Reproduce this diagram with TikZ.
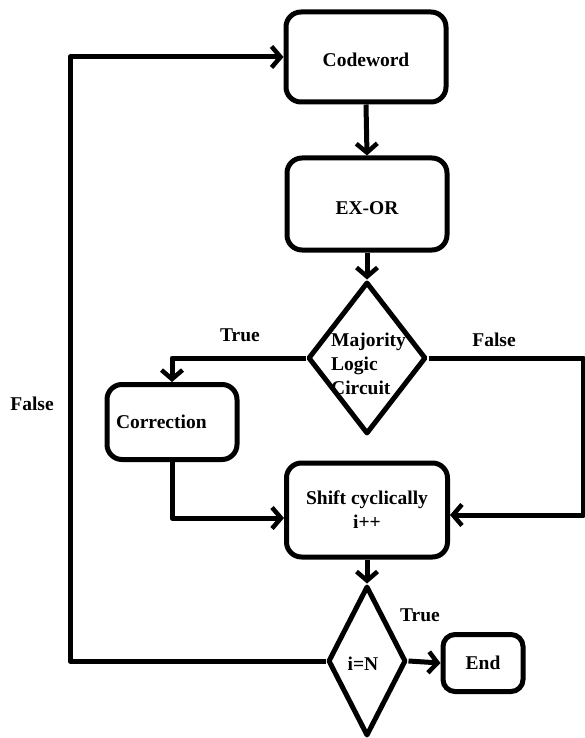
\documentclass[tikz,border=0pt]{standalone}
\usepackage{fontspec}
\setmainfont{Liberation Serif}
\usetikzlibrary{arrows.meta,shapes.geometric}
\begin{document}
\begin{tikzpicture}[x=1pt,y=-1pt,
  every node/.style={font=\fontsize{19.5}{24}\selectfont\bfseries},
  stepbox/.style={draw,line width=5pt,rounded corners=15pt,inner sep=0pt,align=center},
  decide/.style={draw,line width=5pt,diamond,inner sep=0pt,line join=round},
  conn/.style={line width=5pt,line join=round},
  arr/.style={conn,-{Straight Barb[length=9pt,width=21pt,line width=4.5pt]}},
  lbl/.style={inner sep=0pt}]
\useasboundingbox (0,0) rectangle (585,738);
\node[stepbox,minimum width=160pt,minimum height=90pt,text depth=0pt,text height=20pt] (cw) at (366,57) {Codeword};
\node[stepbox,minimum width=160pt,minimum height=92pt,text depth=0pt,text height=20pt] (ex) at (367,204) {EX-OR};
\node[decide,minimum width=118pt,minimum height=152pt] (maj) at (367,358) {};
\node[lbl,anchor=west,align=left] (majt) at (331,364) {Majority\\Logic\\Circuit};
\node[stepbox,minimum width=130pt,minimum height=75pt,text width=112pt,align=left] (corr) at (172,422) {Correction};
\node[stepbox,minimum width=161pt,minimum height=94pt] (sh) at (367,510) {Shift cyclically\\i++};
\node[decide,minimum width=78pt,minimum height=150pt] (eq) at (367,661) {};
\node[lbl] (eqt) at (363,664) {i=N};
\node[stepbox,minimum width=80pt,minimum height=57pt,rounded corners=12pt] (end) at (483,663) {End};
\coordinate (fr) at (583,358);
\coordinate (fl) at (70,661);
\node[lbl] (ttrue) at (240,335) {True};
\node[lbl] (tfalse) at (494,340) {False};
\node[lbl] (btrue) at (420,615) {True};
\node[lbl] (lfalse) at (32,404) {False};
\draw[arr] (cw.south) -- (ex.north);
\draw[arr] (ex.south) -- (maj.north);
\draw[arr] (maj.west) -| (corr.north);
\draw[arr] (maj.east) -- (fr) |- ([yshift=-5pt]sh.east);
\draw[arr] (corr.south) |- ([yshift=-8pt]sh.west);
\draw[arr] (sh.south) -- (eq.north);
\draw[arr] (eq.east) -- (end.west);
\draw[arr] (eq.west) -- (fl) |- (cw.west);
\end{tikzpicture}
\end{document}
